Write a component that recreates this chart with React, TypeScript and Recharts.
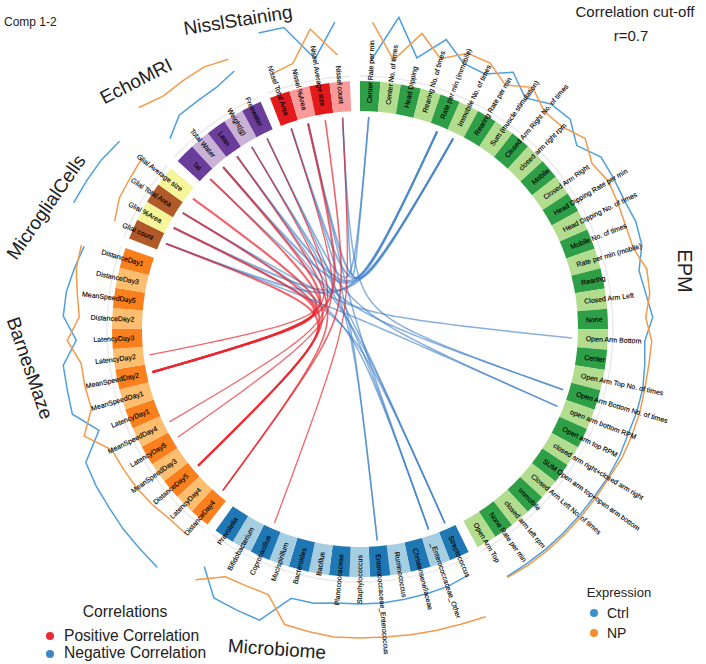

import React from "react";
import { PieChart, Pie, Cell, LineChart, Line, XAxis, YAxis } from "recharts";

const W = 706, H = 664;
const FONT = "'Liberation Sans', Arial, sans-serif";

// ---- sector labels, clockwise inside each module
const epmLabels = ["Center Rate per min","Center No. of times","Head Dipping","Rearing No. of times","Rate per min (immobile)","Immobile No. of times","Rearing Rate per min","Sum (muscle stimulation)","Closed Arm Right No. of times","closed arm right rpm","Mobile","Closed Arm Right","Head Dipping Rate per min","Head Dipping No. of times","Mobile No. of times","Rate per min (mobile)","Rearing","Closed Arm Left","None","Open Arm Bottom","Center","Open Arm Top No. of times","Open Arm Bottom No. of times","open arm bottom RPM","Open arm top RPM","closed arm right+closed arm right","SUM Open arm top+open arm bottom","Closed Arm Left No. of times","Immobile","closed arm left rpm","None Rate per min","Open Arm Top"];
const microbiomeLabels = ["Streptococcus","_Enterococcaceae_Other","Christensenellaceae","Ruminococcus","Enterococcaceae_Enterococcus","Staphylococcus","Planococcaceae","Bacillus","Bacteroides","Mucispirillum","Coprobacillus","Bifidobacterium","Prevotella"];
const barnesLabels = ["DistanceDay4","LatencyDay4","DistanceDay5","MeanSpeedDay3","LatencyDay5","MeanSpeedDay4","LatencyDay1","MeanSpeedDay1","MeanSpeedDay2","LatencyDay2","LatencyDay3","DistanceDay2","MeanSpeedDay5","DistanceDay3","DistanceDay1"];
const glialLabels = ["Glial count","Glial %Area","Glial Total Area","Glial Average size"];
const echoLabels = ["fat","Total Water","Lean","Weight(g)","Freewater"];
const nisslLabels = ["Nissel Total Area","Nissel %Area","Nissel Average size","Nissel count"];

// ---- expression track values, per sector
const epmCtrl = [269,314,277,302,285,284,299,284,295,297,284,296,295,294,296,294,285,288,293,285,287,289,289,288,289,289,288,288,288,288,288,288];
const epmNP = [307,271,302,282,296,296,284,297,285,286,295,285,289,287,285,285,293,292,286,292,291,291,292,292,292,290,290,290,290,290,290,289];
const microbiomeCtrl = [269,272,273,274,275,275,275,278,278,308,307,306,284];
const microbiomeNP = [314,312,311,310,309,309,309,307,305,281,281,282,300];
const barnesCtrl = [313,311,310,308,307,305,280,300,299,299,284,297,296,292,288];
const barnesNP = [269,269,272,274,275,276,296,280,281,281,293,281,285,290,291];
const glialCtrl = [313,311,309,305];
const glialNP = [268,274,275,277];
const echoCtrl = [269,280,280,281,287];
const echoNP = [313,305,305,305,300];
const nisslCtrl = [313,311,274,308];
const nisslNP = [270,274,304,275];

const modules = [
  { key: "epm", labels: epmLabels, ctrl: epmCtrl, np: epmNP, dark: "#2e9f47", light: "#b2dc8e" },
  { key: "microbiome", labels: microbiomeLabels, ctrl: microbiomeCtrl, np: microbiomeNP, dark: "#1f78b4", light: "#a6cee3" },
  { key: "barnes", labels: barnesLabels, ctrl: barnesCtrl, np: barnesNP, dark: "#f9801d", light: "#fdbf6f" },
  { key: "glial", labels: glialLabels, ctrl: glialCtrl, np: glialNP, dark: "#b15928", light: "#f7f59a" },
  { key: "echo", labels: echoLabels, ctrl: echoCtrl, np: echoNP, dark: "#6a3d9a", light: "#cab2d6" },
  { key: "nissl", labels: nisslLabels, ctrl: nisslCtrl, np: nisslNP, dark: "#e31a1c", light: "#fb9a99" },
];

// ---- significant correlations: [upper module, index, other module, index, strength]
const positiveLinks: [string, number, string, number, number][] = [
  ["echo",3,"barnes",9,1.3],
  ["glial",3,"barnes",8,2.2],["glial",1,"barnes",8,2.2],["echo",1,"barnes",8,2.2],["nissl",1,"barnes",8,2.2],
  ["echo",4,"barnes",5,1.3],
  ["nissl",0,"barnes",4,1.3],
  ["glial",2,"barnes",2,2],["echo",0,"barnes",2,2],["glial",0,"barnes",2,2],
  ["echo",2,"barnes",0,1.6],["nissl",2,"barnes",0,1.6],
  ["nissl",3,"microbiome",10,1.3],
];
const negativeLinks: [string, number, string, number, number][] = [
  ["nissl",3,"epm",0,1.6],["echo",4,"epm",0,1.6],
  ["glial",0,"epm",4,2],["echo",2,"epm",4,2],["nissl",0,"epm",4,2],
  ["glial",1,"epm",5,2],["echo",1,"epm",5,2],["nissl",1,"epm",5,2],
  ["glial",2,"epm",19,1.5],
  ["echo",0,"epm",22,1.5],["nissl",3,"epm",22,1.5],
  ["glial",0,"epm",23,1.5],["echo",3,"epm",23,1.5],
  ["echo",4,"microbiome",4,1.5],["nissl",0,"microbiome",4,1.5],
  ["glial",2,"microbiome",1,1.5],["echo",2,"microbiome",1,1.5],["nissl",1,"microbiome",1,1.5],
  ["glial",1,"microbiome",0,1.5],["echo",3,"microbiome",0,1.5],["echo",1,"microbiome",0,1.5],
];

// ---- layout of the circle
const CX = 360, CY = 329, R_OUT = 248, R_IN = 218, R_GUIDE = 253, R_LINK = 212, R_LABEL = 226;
const STEP = 4.74, GAP = 2.33, BLUE = "#4f9fdc", ORANGE = "#f39a4b", RED = "#e9242c", LINK_BLUE = "#3f80c8";

const starts: Record<string, number> = {};
{
  let a = 0;
  for (const m of modules) { starts[m.key] = a; a += m.labels.length * STEP + GAP; }
}
const theta = (k: string, i: number) => starts[k] + STEP * (i + 0.5);
const polar = (t: number, r: number) => ({ x: r * Math.sin((t * Math.PI) / 180), y: r * Math.cos((t * Math.PI) / 180) });

const track = (m: any, values: number[]) => values.map((r, i) => polar(theta(m.key, i), r));

// rational quadratic curve between two sectors, pulled to the hub of the circle
const HUB = { x: -8, y: 14 }, PULL = 4;
const chord = (a: string, i: number, b: string, j: number) => {
  const p = polar(theta(a, i), R_LINK), q = polar(theta(b, j), R_LINK);
  const pts = [];
  for (let n = 0; n <= 60; n++) {
    const t = n / 60, u = 1 - t;
    const d = u * u + 2 * PULL * u * t + t * t;
    pts.push({
      x: (u * u * p.x + 2 * PULL * u * t * HUB.x + t * t * q.x) / d,
      y: (u * u * p.y + 2 * PULL * u * t * HUB.y + t * t * q.y) / d,
    });
  }
  return pts;
};

const SectorLabel = (props: any) => {
  const { midAngle, payload, name } = props;
  const t = 90 - midAngle;
  const n = ((t % 360) + 360) % 360;
  const text = payload?.name ?? name;
  const p = polar(n, R_LABEL);
  const px = CX + p.x, py = CY - p.y;
  const right = n < 180;
  const rot = right ? n - 90 : n + 90;
  return (
    <text x={px} y={py} transform={`rotate(${rot} ${px} ${py})`} textAnchor={right ? "start" : "end"}
      dominantBaseline="central" fontSize={7} fill="#000" stroke="#000" strokeWidth={0.12} fontFamily={FONT}>{text}</text>
  );
};

const titles = [
  { text: "NisslStaining", x: 238, y: 20, rot: -9, size: 19 },
  { text: "EchoMRI", x: 136, y: 81, rot: -27, size: 19 },
  { text: "MicroglialCells", x: 46, y: 207, rot: -55, size: 19 },
  { text: "BarnesMaze", x: 30, y: 368, rot: 71, size: 19 },
  { text: "Microbiome", x: 277, y: 649, rot: 4, size: 19 },
  { text: "EPM", x: 685, y: 271, rot: 90, size: 20 },
];

const layer: React.CSSProperties = { position: "absolute", left: 0, top: 0 };

export default function App() {
  return (
    <div style={{ position: "absolute", left: 0, top: 0, width: W, height: H, background: "#fff", fontFamily: FONT }}>
      <div style={layer}>
        <LineChart width={W} height={H} margin={{ top: 0, right: 0, bottom: 0, left: 0 }}>
          <XAxis hide type="number" dataKey="x" domain={[-CX, W - CX]} allowDataOverflow />
          <YAxis hide type="number" dataKey="y" domain={[CY - H, CY]} allowDataOverflow />
          {negativeLinks.map((l, n) => (
            <Line key={`neg${n}`} data={chord(l[0], l[1], l[2], l[3])} dataKey="y" type="linear" stroke={LINK_BLUE}
              strokeWidth={l[4]} strokeOpacity={0.62} dot={false} activeDot={false} isAnimationActive={false} />
          ))}
          {positiveLinks.map((l, n) => (
            <Line key={`pos${n}`} data={chord(l[0], l[1], l[2], l[3])} dataKey="y" type="linear" stroke={RED}
              strokeWidth={l[4]} strokeOpacity={0.7} dot={false} activeDot={false} isAnimationActive={false} />
          ))}
          {modules.map((m) => (
            <Line key={`c${m.key}`} data={track(m, m.ctrl)} dataKey="y" type="linear" stroke={BLUE} strokeWidth={1.5}
              dot={false} activeDot={false} isAnimationActive={false} />
          ))}
          {modules.map((m) => (
            <Line key={`n${m.key}`} data={track(m, m.np)} dataKey="y" type="linear" stroke={ORANGE} strokeWidth={1.5}
              dot={false} activeDot={false} isAnimationActive={false} />
          ))}
        </LineChart>
      </div>
      <div style={layer}>
        <PieChart width={W} height={H} margin={{ top: 0, right: 0, bottom: 0, left: 0 }}>
          {modules.map((m) => {
            const a0 = starts[m.key], a1 = a0 + m.labels.length * STEP;
            const rows = m.labels.map((name) => ({ name, value: 1 }));
            return (
              <Pie key={`g${m.key}`} data={rows} dataKey="value" nameKey="name" cx={CX} cy={CY} innerRadius={R_GUIDE - 0.7} outerRadius={R_GUIDE + 0.7}
                startAngle={90 - a0} endAngle={90 - a1} stroke="none" fill="#e9e9e9" paddingAngle={0} isAnimationActive={false} />
            );
          })}
          {modules.map((m) => {
            const a0 = starts[m.key], a1 = a0 + m.labels.length * STEP;
            const rows = m.labels.map((name) => ({ name, value: 1 }));
            return (
              <Pie key={m.key} data={rows} dataKey="value" nameKey="name" cx={CX} cy={CY} innerRadius={R_IN} outerRadius={R_OUT}
                startAngle={90 - a0} endAngle={90 - a1} stroke="none" paddingAngle={0} isAnimationActive={false}
                labelLine={false} label={SectorLabel}>
                {rows.map((r, i) => <Cell key={r.name} fill={i % 2 === 0 ? m.dark : m.light} />)}
              </Pie>
            );
          })}
        </PieChart>
      </div>
      <svg width={W} height={H} style={{ ...layer, pointerEvents: "none" }} fontFamily={FONT} fill="#222">
        {titles.map((t) => (
          <text key={t.text} x={t.x} y={t.y} fontSize={t.size} textAnchor="middle" dominantBaseline="central"
            transform={`rotate(${t.rot} ${t.x} ${t.y})`}>{t.text}</text>
        ))}
        <text x={4} y={26} fontSize={12}>Comp 1-2</text>
        <text x={635} y={17} fontSize={15} textAnchor="middle">Correlation cut-off</text>
        <text x={631} y={41} fontSize={15} textAnchor="middle">r=0.7</text>
        <text x={619} y={597} fontSize={13} textAnchor="middle">Expression</text>
        <circle cx={594} cy={613} r={4} fill="#3d8fcd" />
        <text x={607} y={618} fontSize={14}>Ctrl</text>
        <circle cx={594} cy={633} r={4} fill="#f28c2f" />
        <text x={607} y={638} fontSize={14}>NP</text>
        <text x={125} y={617} fontSize={15.7} textAnchor="middle">Correlations</text>
        <circle cx={50} cy={636} r={4} fill="#ea2b33" />
        <text x={64} y={641} fontSize={15.6}>Positive Correlation</text>
        <circle cx={50} cy={654} r={4} fill="#3d85c6" />
        <text x={64} y={658} fontSize={15.6}>Negative Correlation</text>
      </svg>
    </div>
  );
}
